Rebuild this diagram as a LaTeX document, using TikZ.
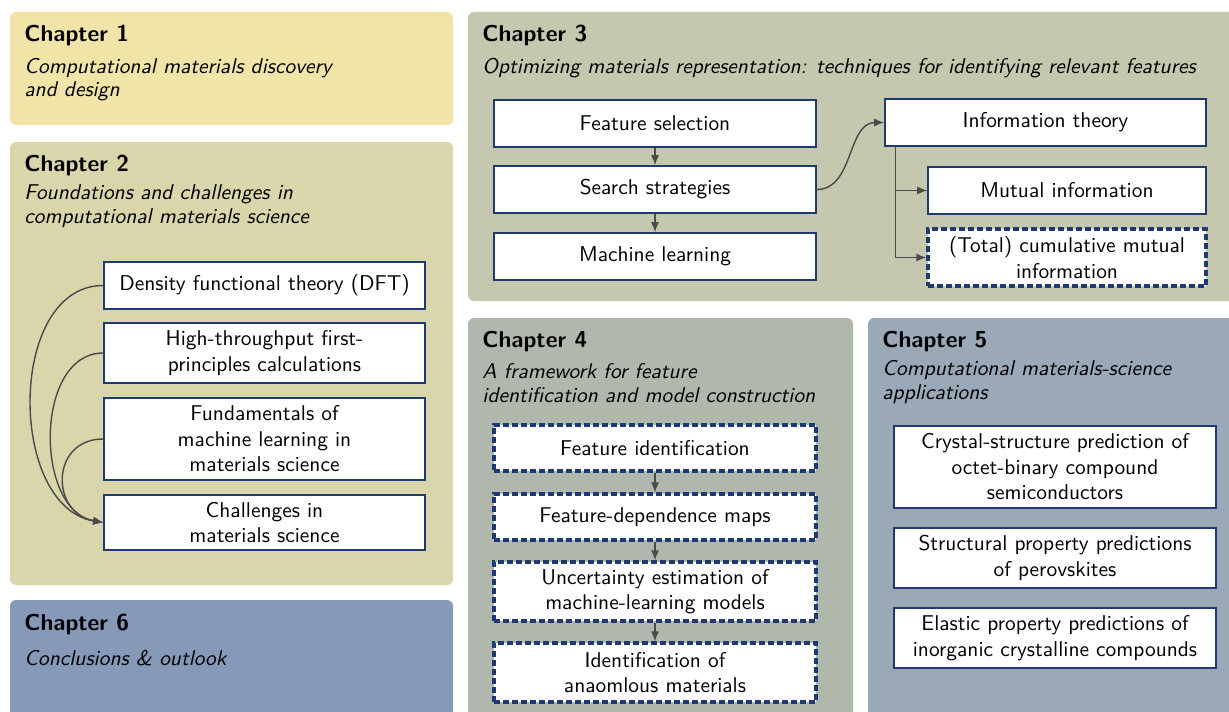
\documentclass[tikz,border=0pt]{standalone}
\usepackage{fontspec}
\usetikzlibrary{arrows.meta,calc}
\definecolor{cOne}{HTML}{F0E4A8}
\definecolor{cTwo}{HTML}{DAD6AC}
\definecolor{cThree}{HTML}{C5C8AE}
\definecolor{cFour}{HTML}{B0B8AE}
\definecolor{cFive}{HTML}{9AA8B8}
\definecolor{cSix}{HTML}{8699B8}
\definecolor{bordc}{HTML}{1F3A70}
\definecolor{arrc}{HTML}{4A4A4A}
\begin{document}
\begin{tikzpicture}[x=0.5pt,y=-0.5pt,
  font=\sffamily\fontsize{10.7}{12.75}\selectfont,
  panel/.style={rounded corners=3pt},
  ttl/.style={anchor=base west,inner sep=0,font=\sffamily\bfseries\fontsize{11.5}{14}\selectfont},
  sub/.style={anchor=base west,inner sep=0,align=left,font=\sffamily\itshape\fontsize{10.7}{11.8}\selectfont},
  box/.style={draw=bordc,line width=0.8pt,fill=white,align=center,inner sep=0,minimum width=161pt},
  dbox/.style={box,dash pattern=on 3pt off 1.5pt,line width=1.6pt},
  arr/.style={draw=arrc,line width=0.7pt,-{Latex[length=5pt,width=4pt]}}]
\useasboundingbox (0,0) rectangle (1229,711);
\clip (0,0) rectangle (1229,711);
% panels
\fill[cOne,panel] (10,12) rectangle (453,125);
\fill[cTwo,panel] (10,142) rectangle (453,585);
\fill[cSix,panel] (10,600) rectangle (453,740);
\fill[cThree,panel] (468,12) rectangle (1245,301);
\fill[cFour,panel] (468,318) rectangle (853,740);
\fill[cFive,panel] (868,318) rectangle (1245,740);
% titles
\node[ttl] (t1) at (24,42) {Chapter 1};
\node[sub] (s1) at (24,97) {Computational materials discovery\\and design};
\node[ttl] (t2) at (24,171) {Chapter 2};
\node[sub] (s2) at (24,223) {Foundations and challenges in\\computational materials science};
\node[ttl] (t3) at (482,42) {Chapter 3};
\node[sub] (s3) at (482,74) {Optimizing materials representation: techniques for identifying relevant features};
\node[ttl] (t4) at (482,347) {Chapter 4};
\node[sub] (s4) at (482,402) {A framework for feature\\identification and model construction};
\node[ttl] (t5) at (882,347) {Chapter 5};
\node[sub] (s5) at (882,399) {Computational materials-science\\applications};
\node[ttl] (t6) at (24,630) {Chapter 6};
\node[sub] (s6) at (24,665) {Conclusions \& outlook};
% chapter 2
\node[box,minimum width=160.5pt,minimum height=23.5pt] (dft) at (264.5,285.5) {Density functional theory (DFT)};
\node[box,minimum width=160.5pt,minimum height=30pt] (ht) at (264.5,353) {High-throughput first-\\principles calculations};
\node[box,minimum width=160.5pt,minimum height=41pt] (fund) at (264.5,439) {Fundamentals of\\machine learning in\\materials science};
\node[box,minimum width=160.5pt,minimum height=27.5pt] (chal) at (264.5,522.5) {Challenges in\\materials science};
\draw[arr] (dft.west) .. controls +(-96,0) and +(-96,-16) .. (chal.west);
\draw[arr] (ht.west) .. controls +(-69,0) and +(-69,-12) .. (chal.west);
\draw[arr] (fund.west) .. controls +(-53,0) and +(-53,-9) .. (chal.west);
% chapter 3
\node[box,minimum height=23.5pt] (fs) at (655,123.5) {Feature selection};
\node[box,minimum height=23.5pt] (ss) at (655,189.5) {Search strategies};
\node[box,minimum height=23.5pt] (ml) at (655,256.5) {Machine learning};
\node[box,minimum width=160.5pt,minimum height=23.5pt] (it) at (1045.5,122.5) {Information theory};
\node[box,minimum width=139pt,minimum height=23.5pt] (mi) at (1067,190.5) {Mutual information};
\node[dbox,minimum width=139pt,minimum height=28.5pt] (tcmi) at (1067,257.5) {(Total) cumulative mutual\\information};
\draw[arr] (fs) -- (ss);
\draw[arr] (ss) -- (ml);
\draw[arr] (ss.east) to[out=0,in=180] (it.west);
\coordinate (itb) at ($(it.south west)+(11,0)$);
\draw[arr] (itb) |- (mi.west);
\draw[arr] (itb) |- (tcmi.west);
% chapter 4
\node[dbox,minimum height=23pt] (fi) at (655,448) {Feature identification};
\node[dbox,minimum height=23pt] (fdm) at (655,517) {Feature-dependence maps};
\node[dbox,minimum height=29.5pt] (ue) at (655,591.5) {Uncertainty estimation of\\machine-learning models};
\node[dbox,minimum height=29.5pt] (ia) at (655,672.5) {Identification of\\anaomlous materials};
\draw[arr] (fi) -- (fdm);
\draw[arr] (fdm) -- (ue);
\draw[arr] (ue) -- (ia);
% chapter 5
\node[box,minimum height=41pt] (cs) at (1055,467) {Crystal-structure prediction of\\octet-binary compound\\semiconductors};
\node[box,minimum height=30pt] (sp) at (1055,558) {Structural property predictions\\of perovskites};
\node[box,minimum height=30pt] (ep) at (1055,638) {Elastic property predictions of\\inorganic crystalline compounds};
\end{tikzpicture}
\end{document}
